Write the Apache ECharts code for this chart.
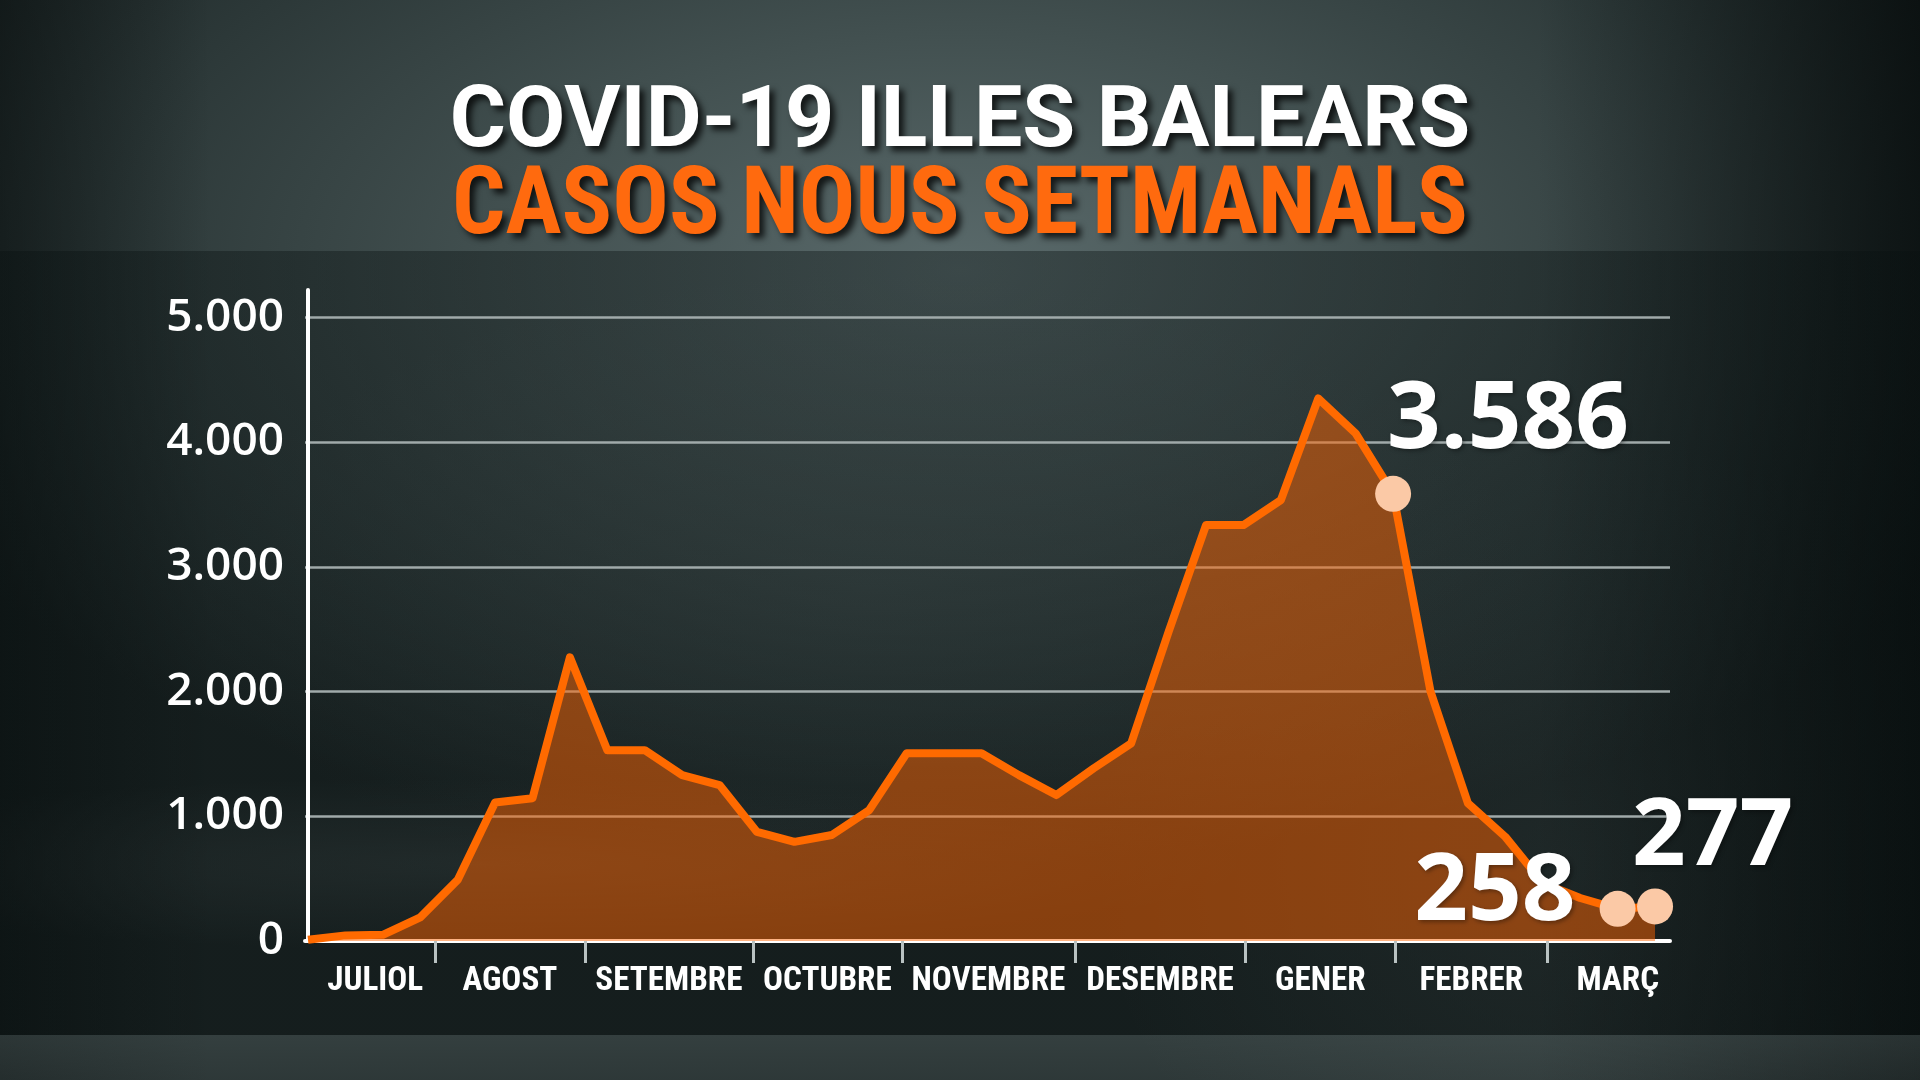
<!DOCTYPE html>
<html>
<head>
<meta charset="utf-8">
<script src="https://cdn.jsdelivr.net/npm/echarts@6/dist/echarts.min.js"></script>
<style>
  html, body { margin: 0; padding: 0; width: 1920px; height: 1080px; overflow: hidden; background: #1b2424; }
  #bg { position: absolute; left: 0; top: 0; width: 1920px; height: 1080px;
    background:
      linear-gradient(to bottom, rgba(0,0,0,0) 0px, rgba(0,0,0,0) 1035px, rgba(95,110,110,0.35) 1035px, rgba(95,110,110,0.25) 1080px),
      linear-gradient(to bottom, rgba(0,0,0,0) 0px, rgba(0,0,0,0) 251px, rgba(8,16,16,0.38) 251px, rgba(8,16,16,0.38) 1035px, rgba(0,0,0,0) 1035px),
      linear-gradient(to right, rgba(5,10,10,0.5) 0%, rgba(5,10,10,0) 11%, rgba(5,10,10,0) 80%, rgba(5,10,10,0.75) 100%),
      radial-gradient(ellipse 40% 8% at 25% 80%, rgba(150,165,165,0.16) 0%, rgba(150,165,165,0) 100%),
      radial-gradient(ellipse 35% 30% at 45% 55%, rgba(120,135,135,0.14) 0%, rgba(120,135,135,0) 100%),
      radial-gradient(ellipse 25% 40% at 82% 80%, rgba(130,145,145,0.16) 0%, rgba(130,145,145,0) 100%),
      radial-gradient(ellipse 60% 55% at 50% 25%, #5a6a6b 0%, #425050 40%, #2c3838 75%, #1d2626 100%);
  }
  #chart { position: absolute; left: 0; top: 0; width: 1920px; height: 1080px; }
</style>
</head>
<body>
<div id="bg"></div>
<div id="chart"></div>
<script>
// ---- data ----
const titleLine1 = 'COVID-19 ILLES BALEARS';
const titleLine2 = 'CASOS NOUS SETMANALS';
const weekIndex = [0,1,2,3,4,5,6,7,8,9,10,11,12,13,14,15,16,17,18,19,20,21,22,23,24,25,26,27,28,29,30,31,32,33,34,35,36];
const weeklyCases = [10,45,50,190,490,1110,1145,2275,1530,1530,1330,1250,875,795,850,1050,1505,1505,1505,1330,1170,1385,1585,2480,3335,3335,3535,4350,4070,3586,2000,1105,835,465,345,258,277];
const months = ['JULIOL','AGOST','SETEMBRE','OCTUBRE','NOVEMBRE','DESEMBRE','GENER','FEBRER','MARÇ'];
// month span edges, in week-index units (first/last are the visible partial months)
const monthEdges = [0.2, 3.39, 7.40, 11.89, 15.87, 20.50, 25.04, 29.07, 33.11, 36.9];
const yTicks = [0, 1000, 2000, 3000, 4000, 5000];
const highlightedWeeks = [29, 35, 36];

// ---- helpers ----
function fmtThousands(v) {
  return String(Math.round(v)).replace(/\B(?=(\d{3})+(?!\d))/g, '.');
}

// choose an installed bold face whose proportions best fit a target width / cap-height
const mctx = document.createElement('canvas').getContext('2d');
function metrics(weightSpec, family, text) {
  const spec = weightSpec + ' 100px "' + family + '"';
  mctx.font = '10px monospace';
  mctx.font = spec;
  if (mctx.font.indexOf('100px') < 0) return null;
  mctx.textBaseline = 'middle';
  const w = mctx.measureText(text).width;
  const h = mctx.measureText('H');
  return { w: w, cap: h.actualBoundingBoxAscent + h.actualBoundingBoxDescent, ascMid: h.actualBoundingBoxAscent };
}
function fitFont(text, targetW, targetCap, widthBias) {
  const families = ['Roboto', 'Open Sans', 'Noto Sans', 'Lato', 'Inter', 'Liberation Sans', 'DejaVu Sans'];
  const stretches = ['extra-condensed', 'condensed', 'semi-condensed', 'normal'];
  const target = targetW / targetCap;
  let best = null;
  families.forEach(f => stretches.forEach(s => {
    const wspec = s === 'normal' ? 'bold' : 'bold ' + s;
    const m = metrics(wspec, f, text);
    if (!m || !m.cap) return;
    const r = m.w / m.cap;
    const score = Math.abs(Math.log(r / target));
    if (!best || score < best.score - 0.005) best = { score: score, weight: wspec, family: f, m: m };
  }));
  const sizeW = 100 * targetW / best.m.w;
  const sizeC = 100 * targetCap / best.m.cap;
  const size = Math.pow(sizeW, widthBias) * Math.pow(sizeC, 1 - widthBias);
  return { weight: best.weight, family: best.family, size: size, ascMid: best.m.ascMid * size / 100 };
}

const t1 = fitFont(titleLine1, 1020, 62, 0.5);
const t2 = fitFont(titleLine2, 1026, 64, 0.85);
const xl = fitFont('SETEMBRE', 147, 24, 0.65);

const monthTicks = monthEdges.slice(1, monthEdges.length - 1);
const monthCenters = months.map((m, i) => (monthEdges[i] + monthEdges[i + 1]) / 2);
const lineData = weekIndex.map((w, i) => [w, weeklyCases[i]]);

const labelStyles = {
  29: { position: 'top', align: 'left', verticalAlign: 'middle', distance: 0, offset: [-6, -55] },
  35: { position: 'left', align: 'right', verticalAlign: 'middle', distance: 0, offset: [-24, -16] },
  36: { position: 'top', align: 'left', verticalAlign: 'middle', distance: 0, offset: [-23, -50] }
};
const dotData = highlightedWeeks.map(w => ({
  value: [weekIndex[w], weeklyCases[w]],
  label: Object.assign({
    show: true,
    formatter: fmtThousands(weeklyCases[w]),
    color: '#ffffff',
    fontFamily: 'Open Sans',
    fontWeight: 'bold',
    fontSize: 94,
    textShadowColor: 'rgba(0,0,0,0.35)',
    textShadowBlur: 4,
    textShadowOffsetX: 2,
    textShadowOffsetY: 2
  }, labelStyles[w])
}));

const chart = echarts.init(document.getElementById('chart'), null, { renderer: 'canvas' });

const titleShadow = {
  textShadowColor: 'rgba(0,0,0,0.75)',
  textShadowBlur: 6,
  textShadowOffsetX: 5,
  textShadowOffsetY: 5
};
// cap top targets (px)
const t1Top = 79 - t1.size / 2 + t1.ascMid;
const t2Top = 160 - t2.size / 2 + t2.ascMid;
const xAxisY = 941;
const xlMargin = 966 - xAxisY - xl.size / 2 + xl.ascMid;

chart.setOption({
  backgroundColor: 'transparent',
  animation: false,
  title: [
    {
      text: titleLine1,
      left: 'center',
      top: t1Top,
      textStyle: Object.assign({
        color: '#ffffff',
        fontFamily: t1.family,
        fontWeight: t1.weight,
        fontSize: t1.size,
        lineHeight: t1.size
      }, titleShadow)
    },
    {
      text: titleLine2,
      left: 'center',
      top: t2Top,
      textStyle: Object.assign({
        color: '#ff6a0e',
        fontFamily: t2.family,
        fontWeight: t2.weight,
        fontSize: t2.size,
        lineHeight: t2.size
      }, titleShadow)
    }
  ],
  grid: { left: 305, right: 250, top: 290, bottom: 1080 - xAxisY, containLabel: false },
  xAxis: {
    type: 'value',
    min: -0.08,
    max: 36.4,
    axisLine: { show: true, lineStyle: { color: '#ffffff', width: 4 } },
    axisTick: {
      show: true,
      customValues: monthTicks,
      length: 22,
      lineStyle: { color: '#b9c2c2', width: 3 }
    },
    axisLabel: {
      show: true,
      customValues: monthCenters,
      margin: xlMargin,
      color: '#ffffff',
      fontFamily: xl.family,
      fontWeight: xl.weight,
      fontSize: xl.size,
      lineHeight: xl.size,
      formatter: function (value) {
        let best = 0, bd = Infinity;
        monthCenters.forEach((c, i) => { const d = Math.abs(c - value); if (d < bd) { bd = d; best = i; } });
        return months[best];
      }
    },
    splitLine: { show: false }
  },
  yAxis: {
    type: 'value',
    min: 0,
    max: 5220,
    axisLine: { show: true, lineStyle: { color: '#ffffff', width: 4 } },
    axisTick: { show: false, customValues: yTicks },
    axisLabel: {
      show: true,
      customValues: yTicks,
      margin: 21,
      color: '#ffffff',
      fontFamily: 'Open Sans',
      fontWeight: 600,
      fontSize: 46,
      formatter: v => fmtThousands(v)
    },
    splitLine: { show: true, lineStyle: { color: '#a0aaaa', width: 2.5 } }
  },
  series: [
    {
      type: 'line',
      data: lineData,
      showSymbol: false,
      symbol: 'none',
      lineStyle: { color: '#ff6a00', width: 8, join: 'round' },
      areaStyle: { color: 'rgba(255,100,0,0.7)' },
      z: 2
    },
    {
      type: 'scatter',
      data: dotData,
      symbol: 'circle',
      symbolSize: 36,
      itemStyle: { color: '#fbc9a6', opacity: 1 },
      z: 3
    }
  ]
});
</script>
</body>
</html>
